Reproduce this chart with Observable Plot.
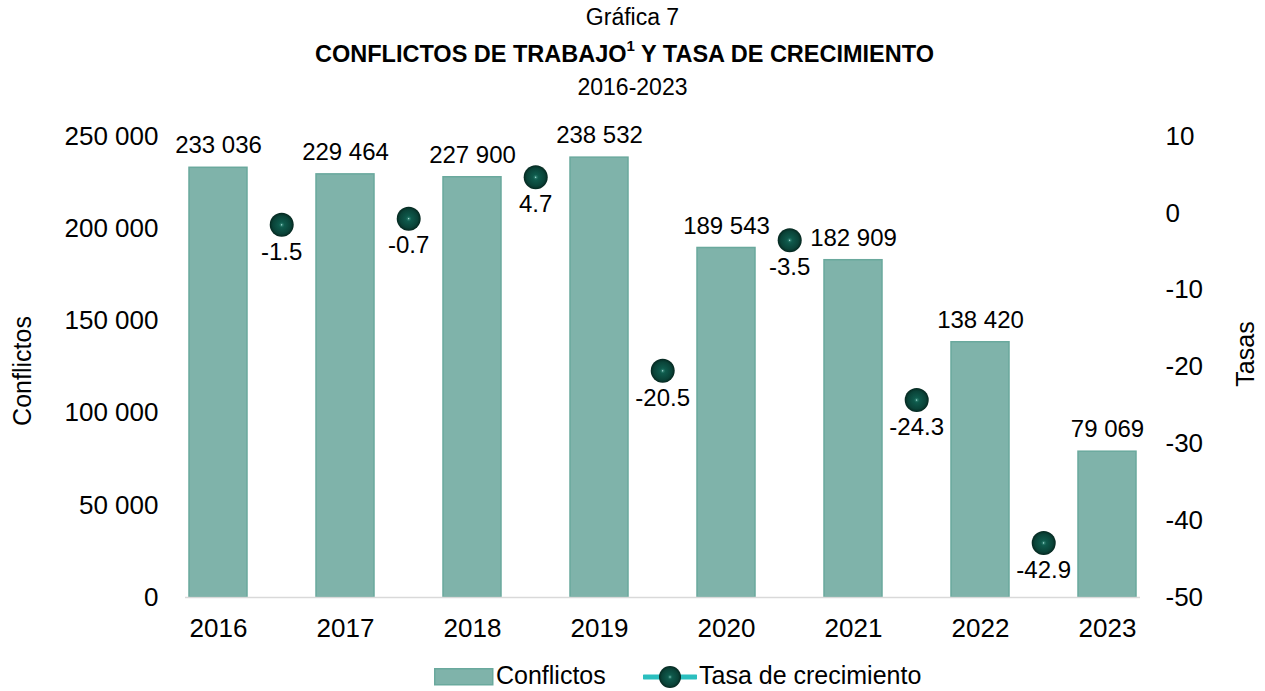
<!DOCTYPE html>
<html><head><meta charset="utf-8">
<script src="https://cdn.jsdelivr.net/npm/d3@7"></script>
<script src="https://cdn.jsdelivr.net/npm/@observablehq/plot@0.6"></script>
<style>
body{margin:0;background:#fff;font-family:"Liberation Sans",Arial,sans-serif;color:#000;width:1265px;overflow:hidden}
#title div{text-align:center}
.t1{font-size:23px;line-height:34px;height:34px}
.t2{font-size:23.5px;line-height:40px;height:40px;font-weight:bold;position:relative;left:-8px}
.t2 sup{font-size:15px;line-height:0;position:relative;top:-2px}
.t3{font-size:23px;line-height:26px;height:26px}
#chart svg{display:block}
#legend{height:31px;position:relative;font-size:25px}
#legend .item{position:absolute;top:0;height:31px;line-height:31px;white-space:nowrap}
#legend svg{vertical-align:middle}
</style></head><body>
<div id="title">
  <div class="t1">Gráfica 7</div>
  <div class="t2">CONFLICTOS DE TRABAJO<sup>1</sup> Y TASA DE CRECIMIENTO</div>
  <div class="t3">2016-2023</div>
</div>
<div id="chart"></div>
<div id="legend"></div>
<script>
// ---- data ----
const years = ["2016","2017","2018","2019","2020","2021","2022","2023"];
const conflictos = [233036, 229464, 227900, 238532, 189543, 182909, 138420, 79069];
const tasaYears = ["2017","2018","2019","2020","2021","2022","2023"];
const tasas = [-1.5, -0.7, 4.7, -20.5, -3.5, -24.3, -42.9];
const leftTicks = [0, 50000, 100000, 150000, 200000, 250000];
const rightTicks = [10, 0, -10, -20, -30, -40, -50];
const seriesNames = ["Conflictos", "Tasa de crecimiento"];
const axisTitles = {left: "Conflictos", right: "Tasas"};

// ---- styles ----
const barFill = "#7fb3aa", barStroke = "#6aa99d", lineColor = "#2bbfbf";
const W = 1265, H = 560, mL = 185, mR = 125, mT = 36, mB = 63;
const pI = 0.545, pO = 0.015;
const step = (W - mL - mR) / (years.length - pI + 2 * pO);
const font = "'Liberation Sans', Arial, sans-serif";

const rMin = -50, rMax = 10, lMax = 250000;
const toY = t => (t - rMin) / (rMax - rMin) * lMax;
const fromY = v => Math.round(v / lMax * (rMax - rMin) + rMin);

const loc = d3.formatLocale({decimal: ".", thousands: " ", grouping: [3], currency: ["", ""], minus: "-"});
const fmtInt = loc.format(",");
const fmtDec = loc.format(".1f");

const bars = years.map((y, i) => ({year: y, value: conflictos[i]}));
const rates = tasaYears.map((y, i) => ({year: y, rate: tasas[i], yv: toY(tasas[i])}));

const chart = Plot.plot({
  width: W, height: H,
  marginLeft: mL, marginRight: mR, marginTop: mT, marginBottom: mB,
  style: {fontFamily: font, fontSize: "24px", color: "#000", background: "#fff"},
  x: {type: "band", domain: years, paddingInner: pI, paddingOuter: pO, align: 0.5, axis: null},
  y: {domain: [0, lMax], axis: null},
  marks: [
    Plot.barY(bars, {x: "year", y: "value", fill: barFill, stroke: barStroke, strokeWidth: 1.5}),
    Plot.ruleY([0], {stroke: "#d9d9d9", strokeWidth: 1.5}),
    Plot.axisX(years, {anchor: "bottom", tickSize: 0, tickPadding: 21, fontSize: 26, label: null}),
    Plot.axisY(leftTicks, {anchor: "left", tickSize: 0, tickPadding: 27, fontSize: 26, tickFormat: fmtInt, label: null}),
    Plot.axisY(rightTicks.map(toY), {anchor: "right", tickSize: 0, tickPadding: 25, fontSize: 26, tickFormat: fromY, label: null}),
    Plot.text([axisTitles.left], {frameAnchor: "left", textAnchor: "middle", text: d => d, rotate: -90, dx: 22 - mL, dy: 4, fontSize: 25}),
    Plot.text([axisTitles.right], {frameAnchor: "right", textAnchor: "middle", text: d => d, rotate: -90, dx: 1245 - (W - mR), dy: -13, fontSize: 25}),
    Plot.text(bars, {x: "year", y: "value", text: d => fmtInt(d.value), dy: -22, fontSize: 24, lineAnchor: "middle"}),
    Plot.dot(rates, {x: "year", y: "yv", dx: -step / 2, r: 12, fill: "url(#sphereGrad)", stroke: "none"}),
    Plot.text(rates, {x: "year", y: "yv", dx: -step / 2, dy: 27, text: d => fmtDec(d.rate), fontSize: 24, lineAnchor: "middle"})
  ]
});

const defs = `<defs>
<radialGradient id="sphereGrad" cx="50%" cy="50%" r="50%">
  <stop offset="0%" stop-color="#d8ffff"/>
  <stop offset="8%" stop-color="#2b7c6c"/>
  <stop offset="22%" stop-color="#0f5a4c"/>
  <stop offset="75%" stop-color="#0a4338"/>
  <stop offset="100%" stop-color="#05271f"/>
</radialGradient></defs>`;
chart.insertAdjacentHTML("afterbegin", defs);
document.getElementById("chart").appendChild(chart);

// legend
const lg = document.getElementById("legend");
lg.innerHTML = `
<div class="item" style="left:434px"><svg width="60" height="18"><rect x="0.75" y="0.75" width="58" height="16" fill="${barFill}" stroke="${barStroke}" stroke-width="1.5"/></svg><span style="margin-left:2px">${seriesNames[0]}</span></div>
<div class="item" style="left:643px"><svg width="54" height="24"><line x1="1" x2="53" y1="12" y2="12" stroke="${lineColor}" stroke-width="5" stroke-linecap="round"/><circle cx="27" cy="12" r="11" fill="url(#sphereGrad)"/></svg><span style="margin-left:2px">${seriesNames[1]}</span></div>`;
</script>
</body></html>
